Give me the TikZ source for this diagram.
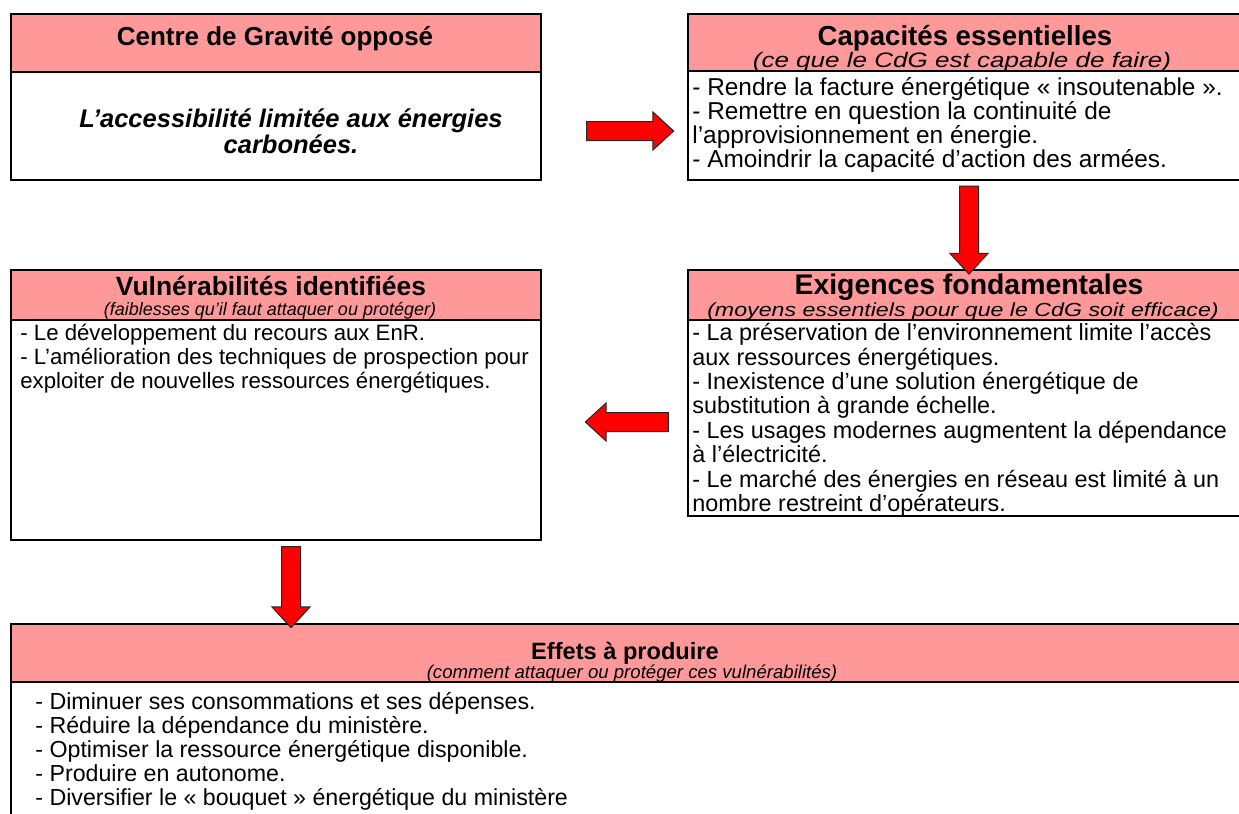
\documentclass[tikz,border=0pt]{standalone}
\usepackage{fontspec}
\setmainfont{Liberation Sans}
\usetikzlibrary{positioning,calc,shapes.arrows}
\definecolor{headpink}{RGB}{255,153,153}
\tikzset{
  head/.style={draw,line width=1.3pt,fill=headpink,anchor=north west,inner sep=0pt,outer sep=0pt},
  body/.style={draw,line width=1.3pt,anchor=north west,inner sep=0pt,outer sep=0pt},
  ttl/.style={font=\fontsize{#1}{#1}\selectfont\bfseries,inner sep=0pt,anchor=base},
  sub/.style={font=\fontsize{#1}{#1}\selectfont\itshape,inner sep=0pt,anchor=base},
  txt/.style args={#1/#2}{font=\fontsize{#1}{#2}\selectfont,align=left,inner sep=0pt,anchor=north west},
  keytxt/.style={font=\fontsize{12.75}{13}\selectfont\bfseries\itshape,align=center,inner sep=0pt,anchor=north},
  blockarrow/.style={single arrow,draw=black!85,fill=red,line width=0.5pt,inner xsep=0pt,inner ysep=4.5pt,
    single arrow head extend=4.75pt,single arrow tip angle=85,single arrow head indent=0pt}
}
\begin{document}
\begin{tikzpicture}[x=0.5pt,y=-0.5pt]
\useasboundingbox (0,0) rectangle (1239,814);
% boxes
\node[head,minimum width=265pt,minimum height=29pt] (cdgH) at (11,14) {};
\node[body,minimum width=265pt,minimum height=54pt] (cdgB) at (11,72) {};
\node[head,minimum width=281pt,minimum height=28.5pt] (capH) at (688,14) {};
\node[body,minimum width=281pt,minimum height=54.5pt] (capB) at (688,71) {};
\node[head,minimum width=281pt,minimum height=25pt] (exiH) at (688,270) {};
\node[body,minimum width=281pt,minimum height=98pt] (exiB) at (688,320) {};
\node[head,minimum width=265pt,minimum height=25pt] (vulH) at (11,270) {};
\node[body,minimum width=265pt,minimum height=110pt] (vulB) at (11,320) {};
\node[head,minimum width=619.5pt,minimum height=29pt] (effH) at (11,624) {};
\node[body,minimum width=619.5pt,minimum height=100pt] (effB) at (11,682) {};
% texts
\node[ttl=13] (cdgT) at (275,45) {Centre de Gravité opposé};
\node[keytxt] (cdgX) at (291,108) {L’accessibilité limitée aux énergies\\carbonées.};
\node[ttl=13.8] (capT) at (965,45) {Capacités essentielles};
\node[sub=10.5] (capS) at (962,67) {\scalebox{1.24}[1]{(ce que le CdG est capable de faire)}};
\node[txt=12.2/12] (capX) at (692,77) {- Rendre la facture énergétique « insoutenable ».\\
- Remettre en question la continuité de\\
l’approvisionnement en énergie.\\
- Amoindrir la capacité d’action des armées.};
\node[ttl=14.2] (exiT) at (969,294) {Exigences fondamentales};
\node[sub=9.5] (exiS) at (963,316) {\scalebox{1.22}[1]{(moyens essentiels pour que le CdG soit efficace)}};
\node[txt=11.7/12.2] (exiX) at (692,323) {- La préservation de l’environnement limite l’accès\\
aux ressources énergétiques.\\
- Inexistence d’une solution énergétique de\\
substitution à grande échelle.\\
- Les usages modernes augmentent la dépendance\\
à l’électricité.\\
- Le marché des énergies en réseau est limité à un\\
nombre restreint d’opérateurs.};
\node[ttl=13.2] (vulT) at (271,295) {Vulnérabilités identifiées};
\node[sub=9] (vulS) at (270,315) {(faiblesses qu’il faut attaquer ou protéger)};
\node[txt=11.1/12] (vulX) at (20,324) {- Le développement du recours aux EnR.\\
- L’amélioration des techniques de prospection pour\\
exploiter de nouvelles ressources énergétiques.};
\node[ttl=11.8] (effT) at (625,659) {Effets à produire};
\node[sub=9.3] (effS) at (632,678) {(comment attaquer ou protéger ces vulnérabilités)};
\node[txt=11.6/12] (effX) at (35,692) {- Diminuer ses consommations et ses dépenses.\\
- Réduire la dépendance du ministère.\\
- Optimiser la ressource énergétique disponible.\\
- Produire en autonome.\\
- Diversifier le « bouquet » énergétique du ministère};
% arrows
\node[blockarrow,minimum height=43.5pt] (capA) at (625,131) {};
\node[blockarrow,rotate=-90,minimum height=44pt] (exiA) at ($(capB.south)!0.5!(exiH.north)$) {};
\node[blockarrow,rotate=180,minimum height=41.5pt] (vulA) at (632,422) {};
\node[blockarrow,rotate=-90,minimum height=40.5pt] (effA) at ($(vulB.south)!0.5!(vulB.south|-effH.north)+(15,0)$) {};
\end{tikzpicture}
\end{document}
